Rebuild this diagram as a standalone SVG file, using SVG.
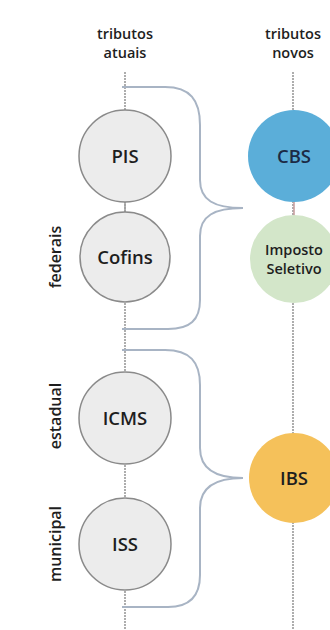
<svg xmlns="http://www.w3.org/2000/svg" width="330" height="630" viewBox="0 0 330 630">
<style>
text{font-family:"Open Sans","Liberation Sans",sans-serif;font-weight:600;fill:#1e1e1e;text-anchor:middle}
.hdr{font-size:14.5px}
.lbl{font-size:18.5px}
.two{font-size:14.5px}
.side{font-size:16px}
.axis{stroke:#9a9a9a;stroke-width:1.6;stroke-dasharray:2 1;fill:none}
.brace{stroke:#a8b4c4;stroke-width:2;fill:none}
.old{fill:#ececec;stroke:#8a8a8a;stroke-width:1.5}
</style>
<rect width="330" height="630" fill="#fff"/>
<g id="headers">
<text class="hdr" x="125" y="39">tributos</text>
<text class="hdr" x="125" y="58">atuais</text>
<text class="hdr" x="293" y="39">tributos</text>
<text class="hdr" x="293" y="58">novos</text>
</g>
<g id="axes">
<line class="axis" x1="125" y1="72" x2="125" y2="630"/>
<line class="axis" x1="293" y1="72" x2="293" y2="630"/>
<line x1="125" y1="200" x2="125" y2="215" stroke="#a0a0a0" stroke-width="1.6"/>
<line x1="294" y1="200" x2="294" y2="216" stroke="#c9a0a0" stroke-width="1.6"/>
</g>
<g id="connectors">
<path class="brace" d="M122,87 H165 C190,87 200,100 200,125 V180 C200,200 214,208 243,208 C214,208 200,216 200,236 V300 C200,320 190,329 168,329 H122"/>
<path class="brace" d="M122,350 H165 C190,350 200,362 200,385 V448 C200,468 214,478 243,478 C214,478 200,488 200,508 V575 C200,596 190,607 168,607 H122"/>
</g>
<g id="side-labels">
<text class="side" transform="translate(61,257) rotate(-90)">federais</text>
<text class="side" transform="translate(61,416) rotate(-90)">estadual</text>
<text class="side" transform="translate(61,544) rotate(-90)">municipal</text>
</g>
<g id="pis"><circle class="old" cx="125" cy="156" r="46"/><text class="lbl" x="125" y="163">PIS</text></g>
<g id="cofins"><circle class="old" cx="125" cy="257" r="45"/><text class="lbl" x="125" y="264">Cofins</text></g>
<g id="icms"><circle class="old" cx="125" cy="418" r="46"/><text class="lbl" x="125" y="425">ICMS</text></g>
<g id="iss"><circle class="old" cx="125" cy="544" r="46"/><text class="lbl" x="125" y="551">ISS</text></g>
<g id="cbs"><circle cx="294" cy="156" r="46" fill="#5baed9"/><text class="lbl" x="294" y="163" style="fill:#1c2a45">CBS</text></g>
<g id="seletivo"><circle cx="294" cy="259" r="44" fill="#d3e6c9"/><text class="two" x="294" y="255">Imposto</text><text class="two" x="294" y="274">Seletivo</text></g>
<g id="ibs"><circle cx="294" cy="478" r="45" fill="#f5c15a"/><text class="lbl" x="294" y="485">IBS</text></g>
</svg>
